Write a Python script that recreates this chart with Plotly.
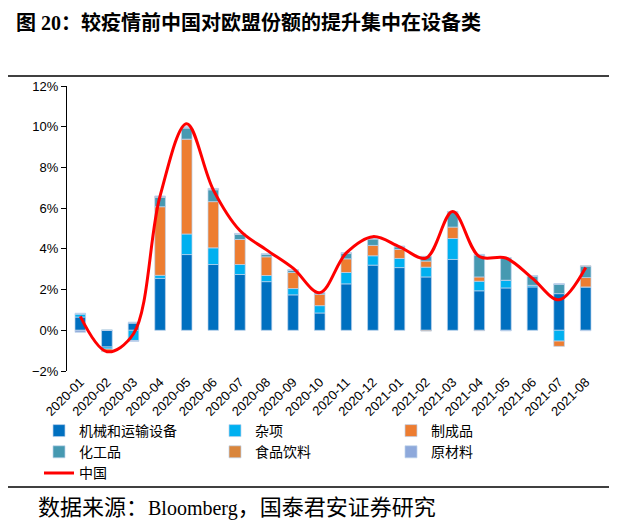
import plotly.graph_objects as go

months = ["2020-01", "2020-02", "2020-03", "2020-04", "2020-05", "2020-06", "2020-07",
          "2020-08", "2020-09", "2020-10", "2020-11", "2020-12", "2021-01", "2021-02",
          "2021-03", "2021-04", "2021-05", "2021-06", "2021-07", "2021-08"]

machinery = [0.65, -0.82, 0.36, 2.55, 3.72, 3.23, 2.74, 2.39, 1.74, 0.85, 2.28, 3.20, 3.08, 2.62, 3.48, 1.94, 2.08, 2.13, 1.80, 2.13]
misc = [0.15, -0.10, -0.50, 0.15, 1.01, 0.82, 0.49, 0.30, 0.31, 0.36, 0.56, 0.46, 0.45, 0.48, 1.03, 0.47, 0.38, 0.08, -0.53, 0.00]
manufactured = [0.00, -0.13, 0.00, 3.37, 4.66, 2.27, 1.23, 0.92, 0.79, 0.56, 0.67, 0.51, 0.44, 0.30, 0.56, 0.21, 0.00, 0.00, -0.26, 0.46]
chemicals = [0.03, 0.00, 0.03, 0.46, 0.54, 0.58, 0.25, 0.11, 0.10, 0.07, 0.26, 0.31, 0.13, 0.22, 0.73, 1.07, 1.10, 0.45, 0.47, 0.56]
food = [0.00, 0.00, 0.00, 0.03, 0.03, 0.03, 0.02, 0.02, 0.02, 0.01, 0.02, 0.03, 0.02, -0.04, 0.02, -0.02, 0.01, 0.01, 0.00, 0.02]
raw = [-0.10, 0.00, -0.05, 0.04, 0.05, 0.04, 0.03, 0.02, 0.02, 0.01, 0.03, 0.04, 0.02, 0.02, 0.02, 0.04, -0.03, 0.01, 0.01, -0.02]
china = [0.68, -1.05, -0.17, 6.60, 10.15, 6.90, 4.90, 3.95, 3.05, 1.85, 3.80, 4.60, 4.10, 3.55, 5.83, 3.62, 3.55, 2.55, 1.50, 3.08]

series = [
    ("机械和运输设备", machinery, "#0070C0"),
    ("杂项", misc, "#00B0F0"),
    ("制成品", manufactured, "#ED7D31"),
    ("化工品", chemicals, "#4699B1"),
    ("食品饮料", food, "#D9853B"),
    ("原材料", raw, "#8EA9DB"),
]

CJK = "Noto Sans CJK SC, Liberation Serif"
fig = go.Figure()
for name, vals, color in series:
    fig.add_trace(go.Bar(
        x=months, y=vals, name=name,
        marker=dict(color=color, line=dict(color="rgba(190,210,235,0.9)", width=0.8)),
    ))
fig.add_trace(go.Scatter(
    x=months, y=china, name="中国", mode="lines",
    line=dict(color="#FF0000", width=3, shape="spline", smoothing=1.0),
))

# page body has an 8px default margin: the figure starts at (8, 8) in the window
OFF = 8
W, H = 617 - OFF, 532 - OFF
PL, PR, PT, PB = 67, 599, 86, 371      # plot area in window pixels
L, T = PL - OFF, PT - OFF
R, B = W - (PR - OFF), H - (PB - OFF)
pw, ph = PR - PL, PB - PT

def px_x(x):
    return (x - PL) / pw

def px_y(y):
    return (PB - y) / ph

fig.update_layout(
    width=W, height=H,
    margin=dict(l=L, r=R, t=T, b=B, pad=0, autoexpand=False),
    paper_bgcolor="white", plot_bgcolor="white",
    barmode="relative", bargap=0.6,
    showlegend=True,
    title=dict(
        text="<b>图 20：较疫情前中国对欧盟份额的提升集中在设备类</b>",
        x=(16 - OFF) / W, xanchor="left", xref="container",
        y=1 - (23 - OFF) / H, yanchor="middle", yref="container",
        font=dict(family="Liberation Serif, Noto Sans CJK SC", size=20, color="black"),
    ),
    xaxis=dict(
        type="category", showline=False, ticks="", showgrid=False, zeroline=False,
        automargin=False,
        tickangle=-45, tickfont=dict(family="Liberation Sans, Arial", size=13, color="black"),
    ),
    xaxis2=dict(
        matches="x", overlaying="x", anchor="free", position=2 / 14,
        type="category", showline=True, linecolor="black", linewidth=1,
        ticks="outside", ticklen=5, tickcolor="black", tickson="boundaries",
        showticklabels=False, showgrid=False, zeroline=False, automargin=False,
    ),
    yaxis=dict(
        range=[-2, 12], dtick=2, ticksuffix="%", showgrid=False, zeroline=False,
        showline=True, linecolor="black", linewidth=1, ticks="outside", ticklen=5,
        tickcolor="black", automargin=False,
        tickfont=dict(family="Liberation Sans, Arial", size=13, color="black"),
    ),
    legend=dict(
        orientation="h", x=px_x(39), xanchor="left", y=px_y(415), yanchor="top",
        entrywidth=131, entrywidthmode="pixels",
        font=dict(family=CJK, size=14, color="black"),
        bgcolor="rgba(0,0,0,0)", traceorder="normal",
        itemwidth=30,
    ),
    shapes=[
        dict(type="line", xref="paper", yref="paper", x0=px_x(0), x1=px_x(617),
             y0=px_y(76), y1=px_y(76), line=dict(color="black", width=1.5)),
        dict(type="line", xref="paper", yref="paper", x0=px_x(0), x1=px_x(617),
             y0=px_y(487), y1=px_y(487), line=dict(color="black", width=1.5)),
    ],
    annotations=[
        dict(text="数据来源：<span style='font-size:20px'>Bloomberg</span>，国泰君安证券研究",
             xref="paper", yref="paper",
             x=px_x(36), y=px_y(507), xanchor="left", yanchor="middle", showarrow=False,
             font=dict(family="Liberation Serif, Noto Sans CJK SC", size=22, color="black")),
    ],
)

fig.write_html("out.html")
